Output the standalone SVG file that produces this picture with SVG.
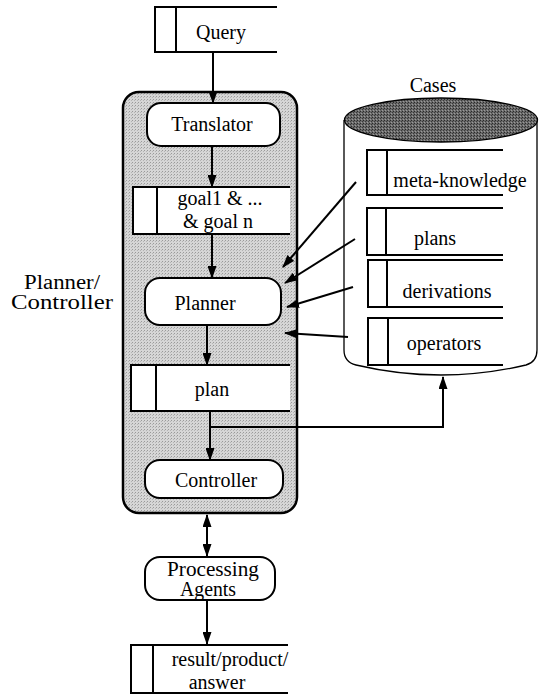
<svg xmlns="http://www.w3.org/2000/svg" width="539" height="694" viewBox="0 0 539 694">
  <defs>
    <pattern id="stipple" width="3" height="3" patternUnits="userSpaceOnUse">
      <rect width="3" height="3" fill="#d6d6d6"/>
      <rect x="0" y="0" width="1" height="1" fill="#9a9a9a"/>
      <rect x="2" y="1" width="1" height="1" fill="#b4b4b4"/>
    </pattern>
    <pattern id="darkStipple" width="3" height="3" patternUnits="userSpaceOnUse">
      <rect width="3" height="3" fill="#6a6a6a"/>
      <rect x="0" y="0" width="1" height="1" fill="#2a2a2a"/>
      <rect x="2" y="1" width="1" height="1" fill="#3a3a3a"/>
      <rect x="1" y="2" width="1" height="1" fill="#9a9a9a"/>
    </pattern>
    <marker id="arrow" markerWidth="13" markerHeight="9" refX="12" refY="4.5" orient="auto" markerUnits="userSpaceOnUse">
      <path d="M0,0 L13,4.5 L0,9 Z" fill="#000"/>
    </marker>
    <marker id="arrowStart" markerWidth="13" markerHeight="9" refX="1" refY="4.5" orient="auto" markerUnits="userSpaceOnUse">
      <path d="M13,0 L0,4.5 L13,9 Z" fill="#000"/>
    </marker>
  </defs>
  <style>
    text { font-family: "Liberation Serif", "DejaVu Serif", serif; font-size: 20px; fill: #000; text-anchor: middle; }
    .box { fill: #fff; stroke: #000; stroke-width: 2; }
    .doc { fill: none; stroke: #000; stroke-width: 2; }
    .docfill { fill: #fff; stroke: none; }
    .conn { fill: none; stroke: #000; stroke-width: 2; }
    .arrowed { marker-end: url(#arrow); }
  </style>

  <!-- Planner/Controller panel -->
  <g id="panel">
    <rect x="123" y="92" width="174" height="421" rx="16" fill="url(#stipple)" stroke="#000" stroke-width="2.5"/>
    <text x="62" y="289" font-family="Liberation Serif, serif" font-size="17" textLength="76" lengthAdjust="spacingAndGlyphs">Planner/</text>
    <text x="62" y="309" font-family="Liberation Serif, serif" font-size="17" textLength="102" lengthAdjust="spacingAndGlyphs">Controller</text>
  </g>

  <!-- Cases store -->
  <g id="cases">
    <path d="M344,120 V350 Q344,362 356,365 Q441,385 526,365 Q537,362 537,350 V120" fill="#fff" stroke="#000" stroke-width="1.3"/>
    <ellipse cx="441" cy="120" rx="96.5" ry="22" fill="url(#darkStipple)" stroke="#000" stroke-width="1.3"/>
    <text x="433" y="92" font-family="Liberation Serif, serif">Cases</text>
  </g>

  <g id="query">
    <rect class="docfill" x="155" y="7" width="122" height="45"/>
    <path class="doc" d="M277,7 H155 V52 H277 M176,7 V52"/>
    <text x="221" y="39" font-family="Liberation Serif, serif">Query</text>
  </g>

  <g id="translator">
    <rect class="box" x="147" y="103" width="133" height="43" rx="14"/>
    <text x="212" y="131" font-family="Liberation Serif, serif">Translator</text>
  </g>

  <g id="goals">
    <rect class="docfill" x="133" y="187" width="157" height="47"/>
    <path class="doc" d="M290,187 H133 V234 H290 M157,187 V234"/>
    <text x="220" y="205" font-family="Liberation Serif, serif">goal1 &amp; ...</text>
    <text x="218" y="228" font-family="Liberation Serif, serif">&amp; goal n</text>
  </g>

  <g id="planner">
    <rect class="box" x="145" y="278" width="136" height="47" rx="15"/>
    <text x="205" y="310" font-family="Liberation Serif, serif">Planner</text>
  </g>

  <g id="plan">
    <rect class="docfill" x="131" y="365" width="159" height="46"/>
    <path class="doc" d="M290,365 H131 V411 H290 M156,365 V411"/>
    <text x="212" y="396" font-family="Liberation Serif, serif">plan</text>
  </g>

  <g id="controller">
    <rect class="box" x="145" y="460" width="138" height="38" rx="15"/>
    <text x="216" y="487" font-family="Liberation Serif, serif">Controller</text>
  </g>

  <g id="processing-agents">
    <rect class="box" x="145" y="557" width="130" height="43" rx="15"/>
    <text x="213" y="576" font-family="Liberation Serif, serif" font-size="17" textLength="92" lengthAdjust="spacingAndGlyphs">Processing</text>
    <text x="208" y="596" font-family="Liberation Serif, serif" font-size="17" textLength="56" lengthAdjust="spacingAndGlyphs">Agents</text>
  </g>

  <g id="result">
    <rect class="docfill" x="131" y="645" width="157" height="48"/>
    <path class="doc" d="M288,645 H131 V693 H288 M153,645 V693"/>
    <text x="230" y="666" font-family="Liberation Serif, serif">result/product/</text>
    <text x="217" y="689" font-family="Liberation Serif, serif">answer</text>
  </g>

  <g id="meta-knowledge">
    <path class="doc" d="M503,150 H367 V195 H503 M387,150 V195"/>
    <text x="460" y="187" font-family="Liberation Serif, serif">meta-knowledge</text>
  </g>
  <g id="plans">
    <path class="doc" d="M503,208 H367 V255 H503 M386,208 V255"/>
    <text x="435" y="245" font-family="Liberation Serif, serif">plans</text>
  </g>
  <g id="derivations">
    <path class="doc" d="M503,260 H368 V307 H503 M387,260 V307"/>
    <text x="447" y="298" font-family="Liberation Serif, serif">derivations</text>
  </g>
  <g id="operators">
    <path class="doc" d="M503,318 H368 V365 H503 M388,318 V365"/>
    <text x="444" y="350" font-family="Liberation Serif, serif">operators</text>
  </g>

  <!-- Connectors -->
  <g id="connectors">
    <line class="conn arrowed" x1="213" y1="52" x2="213" y2="103"/>
    <line class="conn arrowed" x1="212" y1="146" x2="212" y2="187"/>
    <line class="conn arrowed" x1="212" y1="234" x2="212" y2="278"/>
    <line class="conn arrowed" x1="207" y1="325" x2="207" y2="365"/>
    <line class="conn arrowed" x1="210" y1="411" x2="210" y2="460"/>
    <polyline class="conn arrowed" points="210,427 443,427 443,377"/>
    <line class="conn" x1="207" y1="515" x2="207" y2="556" marker-start="url(#arrowStart)" marker-end="url(#arrow)"/>
    <line class="conn arrowed" x1="207" y1="600" x2="207" y2="644"/>
    <line class="conn arrowed" x1="356" y1="182" x2="283" y2="267"/>
    <line class="conn arrowed" x1="355" y1="239" x2="285" y2="283"/>
    <line class="conn arrowed" x1="353" y1="287" x2="287" y2="307"/>
    <line class="conn arrowed" x1="348" y1="337" x2="285" y2="333"/>
  </g>
</svg>
